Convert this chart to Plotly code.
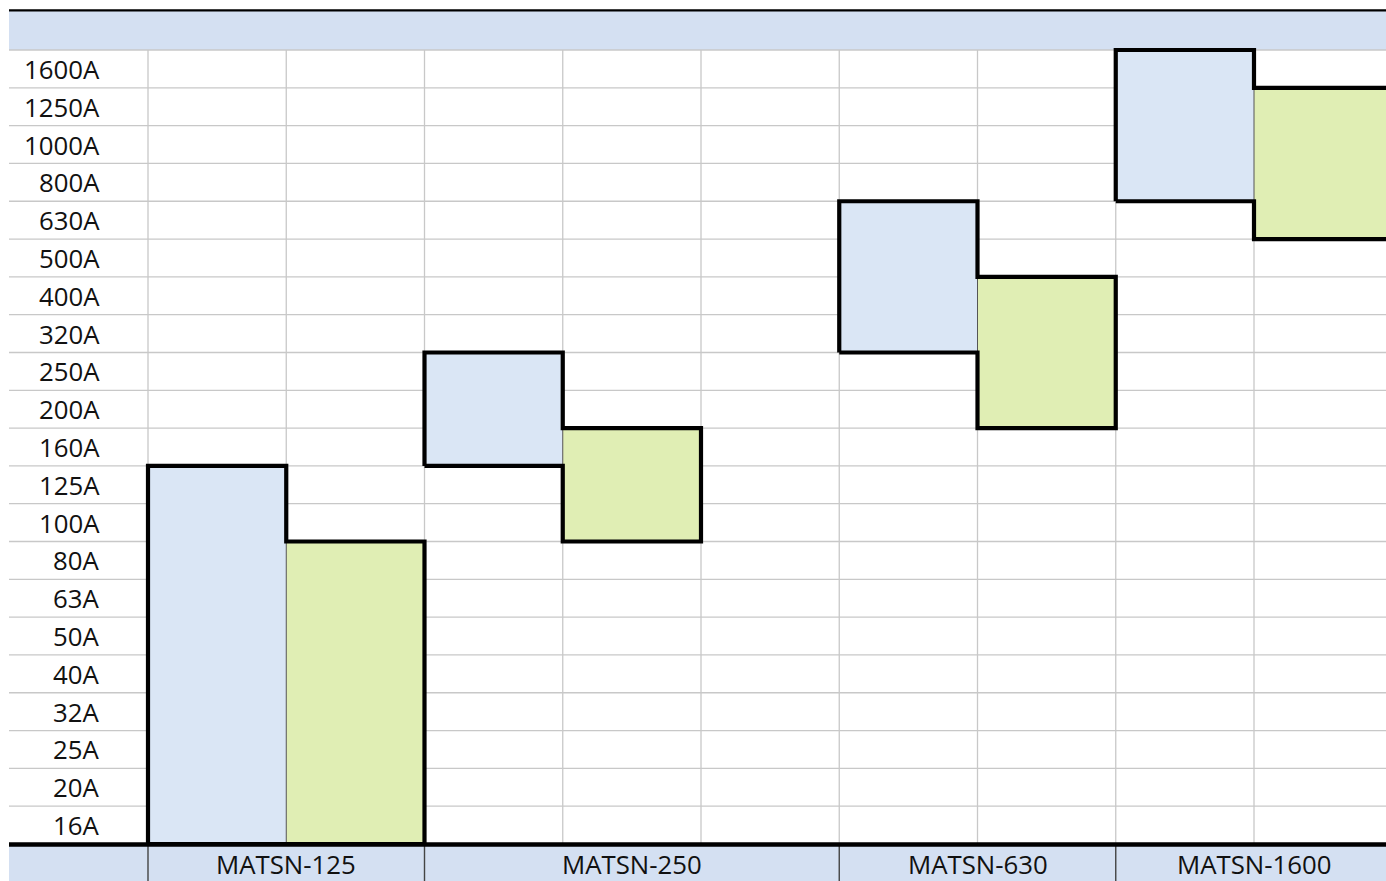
import plotly.graph_objects as go

# ---- data ----
ratings = ["16A", "20A", "25A", "32A", "40A", "50A", "63A", "80A", "100A", "125A",
           "160A", "200A", "250A", "320A", "400A", "500A", "630A", "800A", "1000A",
           "1250A", "1600A"]
models = ["MATSN-125", "MATSN-250", "MATSN-630", "MATSN-1600"]
model_cols = [2, 3, 2, 2]                      # columns each model spans
blue_low = ["16A", "160A", "320A", "800A"]
blue_high = ["125A", "250A", "630A", "1600A"]
green_low = ["16A", "100A", "200A", "630A"]
green_high = ["80A", "160A", "400A", "1250A"]

# ---- styling / geometry ----
W, H = 1386, 881
COL_W = 138.25
X0PX = 148
Y0PX = 844
ROW_H = (844 - 50) / 21
BLUE = "#DAE6F5"
GREEN = "#E0EEB4"
BAND = "#D4E0F2"
GRID = "#C8C8C8"
FONT = "Open Sans"
FS = 25.8

def px_x(p):
    return (p - X0PX) / COL_W

def px_y(p):
    return (Y0PX - p) / ROW_H

n_rows = len(ratings)
n_cols = sum(model_cols)
starts = [sum(model_cols[:i]) for i in range(len(models))]

fig = go.Figure()
shapes = []
annotations = []

# header and footer bands
shapes.append(dict(type="rect", xref="x", yref="y", x0=px_x(9), x1=px_x(W + 5),
                   y0=n_rows, y1=px_y(11), fillcolor=BAND, line_width=0, layer="below"))
shapes.append(dict(type="rect", xref="x", yref="y", x0=px_x(9), x1=px_x(W + 5),
                   y0=px_y(W), y1=px_y(846), fillcolor=BAND, line_width=0, layer="below"))
# grid: horizontal
for r in range(1, n_rows + 1):
    shapes.append(dict(type="line", xref="x", yref="y", x0=px_x(9), x1=px_x(W + 5),
                       y0=r, y1=r, line=dict(color=GRID, width=1.3), layer="below"))
# grid: vertical
for c in range(0, n_cols + 1):
    shapes.append(dict(type="line", xref="x", yref="y", x0=c, x1=c,
                       y0=0, y1=n_rows, line=dict(color=GRID, width=1.3), layer="below"))

# blocks
for i, m in enumerate(models):
    x0 = starts[i]
    bb = ratings.index(blue_low[i])
    bt = ratings.index(blue_high[i]) + 1
    gb = ratings.index(green_low[i])
    gt = ratings.index(green_high[i]) + 1
    fig.add_trace(go.Scatter(x=[x0, x0 + 1, x0 + 1, x0, x0], y=[bb, bb, bt, bt, bb],
                             fill="toself", fillcolor=BLUE, mode="lines",
                             line=dict(width=0), hoverinfo="skip", showlegend=False))
    fig.add_trace(go.Scatter(x=[x0 + 1, x0 + 2, x0 + 2, x0 + 1, x0 + 1], y=[gb, gb, gt, gt, gb],
                             fill="toself", fillcolor=GREEN, mode="lines",
                             line=dict(width=0), hoverinfo="skip", showlegend=False))
    # thin divider between the two blocks
    fig.add_trace(go.Scatter(x=[x0 + 1, x0 + 1], y=[max(bb, gb), min(bt, gt)], mode="lines",
                             line=dict(color="#555555", width=1), hoverinfo="skip",
                             showlegend=False))
    # thick outline of the union
    fig.add_trace(go.Scatter(
        x=[x0, x0, x0 + 1, x0 + 1, x0 + 2, x0 + 2, x0 + 1, x0 + 1, x0],
        y=[bb, bt, bt, gt, gt, gb, gb, bb, bb],
        mode="lines", line=dict(color="#000000", width=4.2), hoverinfo="skip",
        showlegend=False))
    # footer label
    annotations.append(dict(x=x0 + model_cols[i] / 2, y=px_y(863.5), xref="x", yref="y",
                            text=m, showarrow=False, xanchor="center", yanchor="middle",
                            font=dict(family=FONT, size=FS, color="#111111")))
    # footer separators
    shapes.append(dict(type="line", xref="x", yref="y", x0=x0, x1=x0, y0=px_y(846),
                       y1=px_y(W), line=dict(color="#444444", width=1.4), layer="above"))

# top black line and bottom thick line
shapes.append(dict(type="line", xref="x", yref="y", x0=px_x(9), x1=px_x(W + 5),
                   y0=px_y(10.3), y1=px_y(10.3), line=dict(color="#000000", width=2.2),
                   layer="above"))
shapes.append(dict(type="line", xref="x", yref="y", x0=px_x(9), x1=px_x(W + 5),
                   y0=px_y(844.5), y1=px_y(844.5), line=dict(color="#000000", width=4.4),
                   layer="above"))

# row labels
for r, lab in enumerate(ratings):
    annotations.append(dict(x=px_x(102), y=r + 0.5, xref="x", yref="y", text=lab,
                            showarrow=False, xanchor="right", yanchor="middle",
                            font=dict(family=FONT, size=FS, color="#111111")))

fig.update_layout(
    width=W, height=H, autosize=False,
    margin=dict(l=0, r=0, t=0, b=0, pad=0),
    paper_bgcolor="white", plot_bgcolor="white",
    xaxis=dict(range=[px_x(0), px_x(W)], visible=False, fixedrange=True),
    yaxis=dict(range=[px_y(H), px_y(0)], visible=False, fixedrange=True),
    shapes=shapes, annotations=annotations,
)

fig.write_html("out.html", include_plotlyjs=True, config={"displayModeBar": False},
               post_script="document.body.style.margin='0';document.body.style.overflow='hidden';")
